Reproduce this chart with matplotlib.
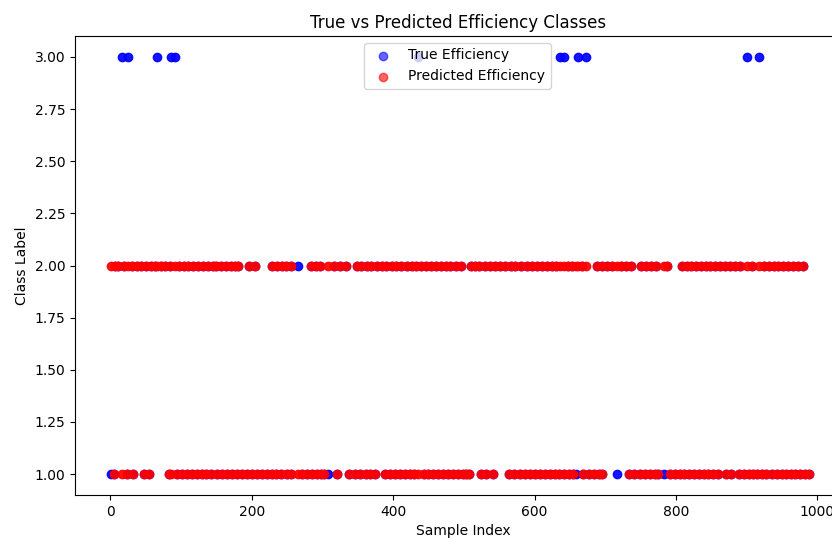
import numpy as np
import matplotlib
matplotlib.use("Agg")
import matplotlib.pyplot as plt

# Sample indices grouped by predicted class
pred_class1_idx = [5, 16, 23, 32, 48, 55, 83, 86, 94, 101, 108, 115, 122, 129, 136, 143,
                   151, 158, 165, 172, 179, 186, 193, 200, 207, 214, 221, 228, 235, 242,
                   250, 256, 265, 271, 278, 285, 292, 298, 302, 320, 338, 346, 353, 361,
                   367, 375, 388, 395, 402, 409, 417, 424, 430, 435, 443, 450, 457, 464,
                   471, 478, 485, 492, 499, 503, 507, 524, 532, 541, 564, 571, 579, 587,
                   594, 601, 608, 615, 622, 629, 634, 642, 649, 655, 669, 677, 684, 691,
                   696, 733, 741, 749, 756, 763, 770, 775, 791, 798, 805, 812, 819, 826,
                   833, 840, 846, 853, 860, 871, 878, 889, 896, 903, 909, 914, 921, 927,
                   936, 943, 950, 956, 963, 969, 976, 982, 988]
pred_class2_idx = [1, 6, 11, 19, 25, 31, 38, 44, 50, 57, 63, 66, 71, 77, 84, 91, 97, 104,
                   110, 117, 124, 131, 138, 145, 150, 157, 163, 170, 176, 181, 196, 205,
                   229, 236, 243, 248, 255, 284, 291, 297, 308, 316, 325, 333, 349, 355,
                   363, 369, 377, 384, 390, 398, 404, 411, 419, 426, 432, 440, 447, 453,
                   461, 468, 475, 481, 489, 496, 510, 516, 522, 530, 537, 544, 551, 558,
                   566, 573, 581, 589, 596, 603, 610, 617, 624, 631, 636, 641, 647, 653,
                   658, 661, 667, 673, 688, 695, 702, 709, 716, 722, 729, 736, 751, 758,
                   765, 772, 783, 788, 808, 815, 821, 828, 835, 842, 848, 855, 862, 869,
                   876, 883, 890, 900, 907, 917, 924, 931, 938, 945, 952, 959, 966, 973,
                   980]

# Samples whose true class differs from the prediction
mismatch_idx = [1, 16, 25, 66, 86, 91, 265, 308, 435, 636, 641, 658, 661, 673, 716, 783, 900, 917]
mismatch_true = [1, 3, 3, 3, 3, 3, 2, 1, 3, 3, 3, 1, 3, 3, 1, 1, 3, 3]

# Build arrays
sample_index = np.array(sorted(pred_class1_idx + pred_class2_idx))
pred_lookup = {i: 1 for i in pred_class1_idx}
pred_lookup.update({i: 2 for i in pred_class2_idx})
y_pred = np.array([pred_lookup[i] for i in sample_index])
true_lookup = dict(pred_lookup)
true_lookup.update(dict(zip(mismatch_idx, mismatch_true)))
y_true = np.array([true_lookup[i] for i in sample_index])

W, H = 832, 538
fig = plt.figure(figsize=(W / 100, H / 100), dpi=100)
ax_left, ax_right, ax_top, ax_bottom = 75, 852, 36, 495
ax = fig.add_axes([ax_left / W, 1 - ax_bottom / H, (ax_right - ax_left) / W, (ax_bottom - ax_top) / H])

ax.scatter(sample_index, y_true, color='blue', alpha=0.92, label='True Efficiency')
ax.scatter(sample_index, y_pred, color='red', alpha=0.92, label='Predicted Efficiency')
ax.set_xlim(-49.95, 1048.95)
ax.set_ylim(0.9, 3.1)
yt = [1.0, 1.25, 1.5, 1.75, 2.0, 2.25, 2.5, 2.75, 3.0]
ax.set_yticks(yt)
ax.set_yticklabels([f"{v:.2f}" for v in yt])
ax.set_title('True vs Predicted Efficiency Classes', fontsize=12, x=(458 - ax_left) / (ax_right - ax_left))
ax.set_xlabel('Sample Index')
ax.set_ylabel('Class Label')
leg = ax.legend(loc='upper center', bbox_to_anchor=(0.5 - 6 / (ax_right - ax_left), 1.0))
for h in leg.legend_handles:
    h.set_alpha(0.6)

fig.savefig('out.png', dpi=100)
